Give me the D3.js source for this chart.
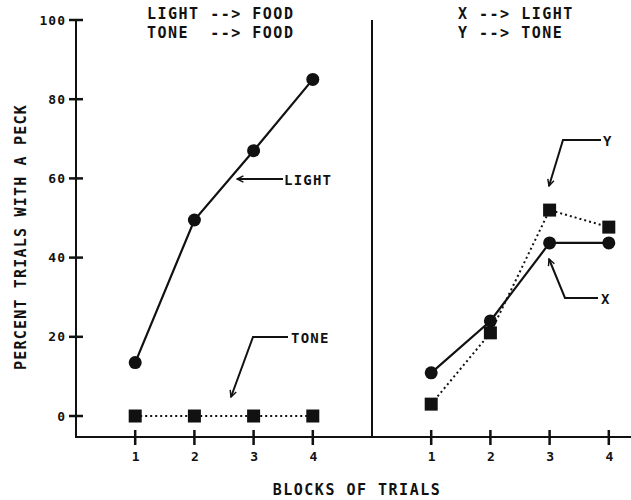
<!DOCTYPE html>
<html>
<head>
<meta charset="utf-8">
<script src="https://cdn.jsdelivr.net/npm/d3@7"></script>
<style>
body { margin: 0; background: #fff; }
text { font-family: "DejaVu Sans Mono", monospace; font-weight: bold; fill: #111; }
</style>
</head>
<body>
<script>
var w = 631;
var h = 500;

// data
var blocks = [1, 2, 3, 4];
var lightVals = [13.5, 49.5, 67, 85];
var toneVals = [0, 0, 0, 0];
var xVals = [10.9, 24, 43.7, 43.7];   // X --> LIGHT
var yVals = [3, 21, 52, 47.7];        // Y --> TONE
var yTicks = [0, 20, 40, 60, 80, 100];

var svg = d3.select("body")
    .append("svg")
    .attr("width", w)
    .attr("height", h);

var y = d3.scaleLinear().domain([-5.3, 100]).range([437, 20]);
var xLeft = d3.scaleLinear().domain([0, 5]).range([76, 372]);
var xRight = d3.scaleLinear().domain([0, 5]).range([372, 668]);

// defs: arrowhead
svg.append("defs").append("marker")
    .attr("id", "arrow")
    .attr("viewBox", "0 0 10 10")
    .attr("refX", 9).attr("refY", 5)
    .attr("markerWidth", 8).attr("markerHeight", 8)
    .attr("markerUnits", "userSpaceOnUse")
    .attr("orient", "auto")
    .append("path")
    .attr("d", "M1,1 L9,5 L1,9")
    .attr("fill", "none")
    .attr("stroke", "#111")
    .attr("stroke-width", 1.8);

// y axis (labels from d3 axis, crossing tick marks drawn as small rects)
var yAxis = d3.axisLeft(y).tickValues(yTicks).tickSize(0).tickPadding(10);
var gy = svg.append("g").attr("transform", "translate(76,0)").call(yAxis);
gy.select(".domain").remove();
gy.selectAll(".tick text").attr("font-size", 13).attr("letter-spacing", 1)
    .attr("font-family", "DejaVu Sans Mono").attr("font-weight", "bold");
svg.append("rect").attr("x", 75).attr("y", y(100)).attr("width", 2).attr("height", y(-5.3) - y(100))
    .attr("fill", "#111");
svg.selectAll(null).data(yTicks).enter().append("rect")
    .attr("x", 69).attr("width", 14)
    .attr("y", function(d){ return y(d) - 1.25; })
    .attr("height", 2.5)
    .attr("fill", "#111");

// x axes
function xAxisFor(sc) {
    var g = svg.append("g").attr("transform", "translate(0,437)");
    g.call(d3.axisBottom(sc).tickValues(blocks).tickFormat(d3.format("d"))
        .tickSize(0).tickPadding(15));
    g.select(".domain").remove();
    g.selectAll(".tick text").attr("font-size", 13)
        .attr("font-family", "DejaVu Sans Mono").attr("font-weight", "bold");
    svg.selectAll(null).data(blocks).enter().append("rect")
        .attr("x", function(d){ return sc(d) - 1.25; })
        .attr("width", 2.5)
        .attr("y", 430).attr("height", 15)
        .attr("fill", "#111");
}
xAxisFor(xLeft);
xAxisFor(xRight);
svg.append("rect").attr("x", 75).attr("y", 436).attr("width", w - 75).attr("height", 2)
    .attr("fill", "#111");

// divider
svg.append("rect").attr("x", 371).attr("y", 20).attr("width", 2).attr("height", 417)
    .attr("fill", "#111");

function drawSeries(sc, vals, dotted, shape) {
    var line = d3.line().x(function(d, i){ return sc(blocks[i]); }).y(function(d){ return y(d); });
    svg.append("path").datum(vals)
        .attr("d", line)
        .attr("fill", "none")
        .attr("stroke", "#111")
        .attr("stroke-width", dotted ? 2 : 2.2)
        .attr("stroke-dasharray", dotted ? "2,3" : null);
    if (shape == "circle") {
        svg.selectAll(null).data(vals).enter().append("circle")
            .attr("cx", function(d, i){ return sc(blocks[i]); })
            .attr("cy", function(d){ return y(d); })
            .attr("r", 6.5)
            .attr("fill", "#111");
    } else {
        svg.selectAll(null).data(vals).enter().append("rect")
            .attr("x", function(d, i){ return sc(blocks[i]) - 6.5; })
            .attr("y", function(d){ return y(d) - 6.5; })
            .attr("width", 13).attr("height", 13)
            .attr("fill", "#111");
    }
}
drawSeries(xLeft, toneVals, true, "square");
drawSeries(xLeft, lightVals, false, "circle");
drawSeries(xRight, yVals, true, "square");
drawSeries(xRight, xVals, false, "circle");

// annotations
function note(points, label, tx, ty) {
    svg.append("path")
        .attr("d", d3.line()(points))
        .attr("fill", "none").attr("stroke", "#111").attr("stroke-width", 2)
        .attr("marker-end", "url(#arrow)");
    svg.append("text").attr("x", tx).attr("y", ty).attr("dy", "0.36em")
        .attr("font-size", 14).attr("letter-spacing", 1.2).text(label);
}
note([[283, 179], [237, 179]], "LIGHT", 284, 180);
note([[288, 337], [253, 337], [231, 397]], "TONE", 291, 338);
note([[601, 140], [563, 140], [549, 186]], "Y", 603, 141);
note([[598, 298], [565, 298], [549, 259]], "X", 601, 299);

// titles
var titleFont = 15;
svg.append("text").attr("x", 147).attr("y", 19).attr("font-size", titleFont).attr("letter-spacing", 1.5)
    .attr("xml:space", "preserve").text("LIGHT --> FOOD");
svg.append("text").attr("x", 147).attr("y", 38).attr("font-size", titleFont).attr("letter-spacing", 1.5)
    .attr("xml:space", "preserve").text("TONE  --> FOOD");
svg.append("text").attr("x", 458).attr("y", 19).attr("font-size", titleFont).attr("letter-spacing", 1.5)
    .attr("xml:space", "preserve").text("X --> LIGHT");
svg.append("text").attr("x", 458).attr("y", 38).attr("font-size", titleFont).attr("letter-spacing", 1.5)
    .attr("xml:space", "preserve").text("Y --> TONE");

// axis labels
svg.append("text").attr("x", 357).attr("y", 495).attr("text-anchor", "middle")
    .attr("font-size", 15).attr("letter-spacing", 1.5).text("BLOCKS OF TRIALS");
svg.append("text").attr("transform", "translate(26,237) rotate(-90)").attr("text-anchor", "middle")
    .attr("font-size", 15).attr("letter-spacing", 1.2).text("PERCENT TRIALS WITH A PECK");
</script>
</body>
</html>
